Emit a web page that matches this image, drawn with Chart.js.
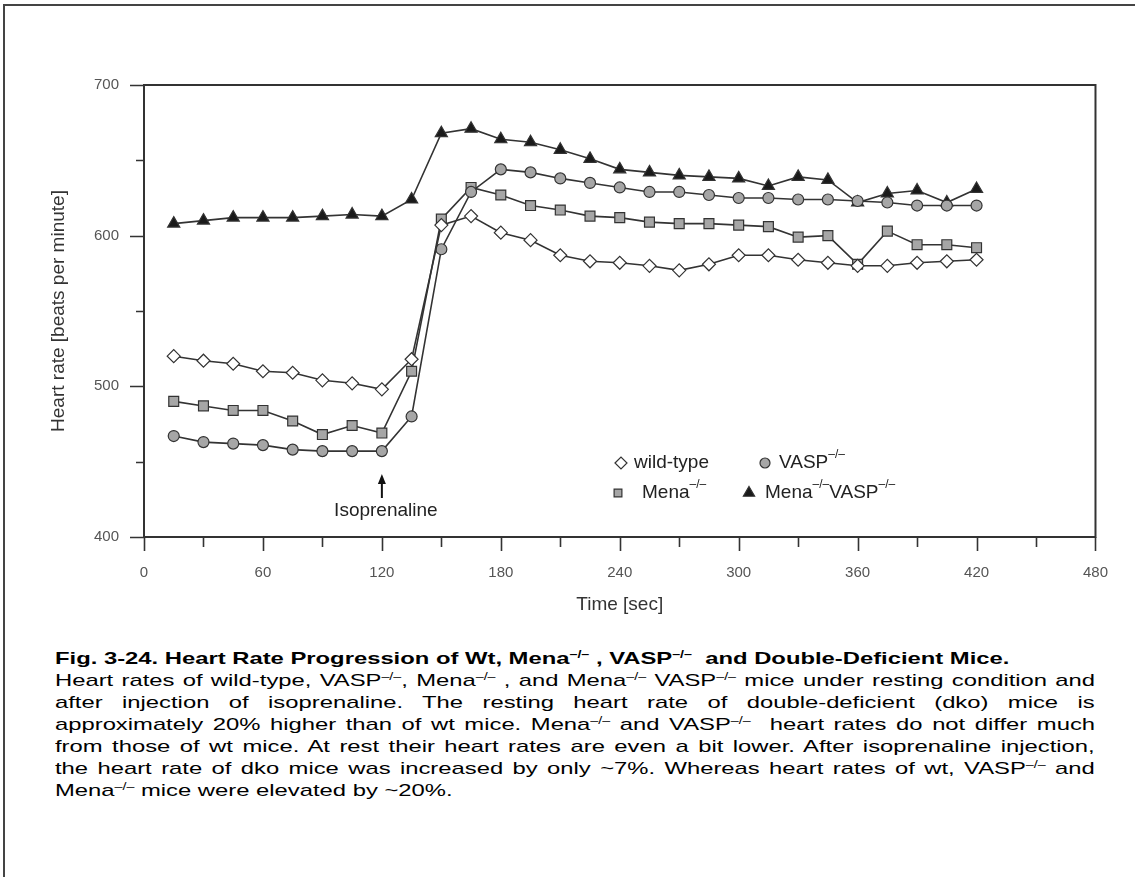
<!DOCTYPE html>
<html>
<head>
<meta charset="utf-8">
<script src="https://cdn.jsdelivr.net/npm/chart.js@4"></script>
<style>
  html, body { margin: 0; padding: 0; background: #fff; }
  #page { position: relative; width: 1135px; height: 877px; overflow: hidden; font-family: "Liberation Sans", Arial, sans-serif; }
  #frame { position: absolute; left: 3px; top: 4px; width: 1200px; height: 1000px; border-top: 2px solid #444; border-left: 2px solid #444; }
  #chart { position: absolute; left: 0; top: 0; }
  #caption { position: absolute; top: 648px; font-size: 17px; line-height: 22px; color: #000; transform-origin: 0 0; }
  #caption .ln span.t { white-space: nowrap; display: inline-block; }
  .sup { font-size: 0.6em; vertical-align: 0.6em; line-height: 0; }
</style>
</head>
<body>
<div id="page">
  <div id="frame"></div>
  <canvas id="chart" width="1135" height="640"></canvas>
  <div id="caption">
    <div class="ln"><span class="t"><b>Fig. 3-24. Heart Rate Progression of Wt, Mena<span class="sup">–/–</span> , VASP<span class="sup">–/–</span>&nbsp; and Double-Deficient Mice.</b></span></div>
    <div class="ln j"><span class="t">Heart rates of wild-type, VASP<span class="sup">–/–</span>, Mena<span class="sup">–/–</span> , and Mena<span class="sup">–/–</span> VASP<span class="sup">–/–</span> mice under resting condition and</span></div>
    <div class="ln j"><span class="t">after injection of isoprenaline. The resting heart rate of double-deficient (dko) mice is</span></div>
    <div class="ln j"><span class="t">approximately 20% higher than of wt mice. Mena<span class="sup">–/–</span> and VASP<span class="sup">–/–</span>&nbsp; heart rates do not differ much</span></div>
    <div class="ln j"><span class="t">from those of wt mice. At rest their heart rates are even a bit lower. After isoprenaline injection,</span></div>
    <div class="ln j"><span class="t">the heart rate of dko mice was increased by only ~7%. Whereas heart rates of wt, VASP<span class="sup">–/–</span> and</span></div>
    <div class="ln"><span class="t">Mena<span class="sup">–/–</span> mice were elevated by ~20%.</span></div>
  </div>
</div>
<script>
// Data
const timeSec = [15, 30, 45, 60, 75, 90, 105, 120, 135, 150, 165, 180, 195, 210,
                 225, 240, 255, 270, 285, 300, 315, 330, 345, 360, 375, 390, 405, 420];
const wildType = [520, 517, 515, 510, 509, 504, 502, 498, 518, 607, 613, 602, 597, 587,
                  583, 582, 580, 577, 581, 587, 587, 584, 582, 580, 580, 582, 583, 584];
const vaspKO = [467, 463, 462, 461, 458, 457, 457, 457, 480, 591, 629, 644, 642, 638,
                635, 632, 629, 629, 627, 625, 625, 624, 624, 623, 622, 620, 620, 620];
const menaKO = [490, 487, 484, 484, 477, 468, 474, 469, 510, 611, 632, 627, 620, 617,
                613, 612, 609, 608, 608, 607, 606, 599, 600, 581, 603, 594, 594, 592];
const dko = [608, 610, 612, 612, 612, 613, 614, 613, 624, 668, 671, 664, 662, 657,
             651, 644, 642, 640, 639, 638, 633, 639, 637, 622, 628, 630, 622, 631];
const xTicks = [0, 60, 120, 180, 240, 300, 360, 420, 480];
const yTicks = [400, 500, 600, 700];
const injectionTime = 120;

const FONT = '"Liberation Sans", Arial, sans-serif';
const LINE = '#333333';

// Caption: the scanned text is wider than plain Arial, stretch it and justify by hand
const CAPTION_LEFT = 55;
const CAPTION_WIDTH = 1040;
const CAPTION_STRETCH = 1.4;

function layoutCaption() {
    const cap = document.getElementById('caption');
    const inner = CAPTION_WIDTH / CAPTION_STRETCH;
    cap.style.left = CAPTION_LEFT + 'px';
    cap.style.width = inner + 'px';
    cap.style.transform = 'scaleX(' + CAPTION_STRETCH + ')';
    cap.querySelectorAll('.ln.j span.t').forEach(el => {
        const gaps = (el.textContent.match(/[ \u00a0]/g) || []).length;
        const extra = inner - el.offsetWidth;
        if (gaps > 0) el.style.wordSpacing = (extra / gaps) + 'px';
    });
}
layoutCaption();

function toPoints(values) {
    return values.map((v, i) => ({ x: timeSec[i], y: v }));
}

function series(label, values, style, radius, fill) {
    return {
        label: label,
        data: toPoints(values),
        borderColor: LINE,
        borderWidth: 1.6,
        pointStyle: style,
        pointRadius: radius,
        pointBackgroundColor: fill,
        pointBorderColor: LINE,
        pointBorderWidth: 1.2,
        tension: 0
    };
}

// Draws text pieces, some of them as superscripts
function drawRuns(ctx, x, y, runs) {
    ctx.textAlign = 'left';
    ctx.textBaseline = 'middle';
    ctx.fillStyle = '#222';
    runs.forEach(r => {
        ctx.font = (r.sup ? '12px ' : '19px ') + FONT;
        ctx.fillText(r.t, x, r.sup ? y - 8 : y);
        x += ctx.measureText(r.t).width;
    });
}

const decorPlugin = {
    id: 'decor',
    afterDraw(chart) {
        const { ctx, chartArea: a, scales: { x, y } } = chart;
        ctx.save();

        // plot frame
        ctx.strokeStyle = LINE;
        ctx.lineWidth = 2;
        ctx.strokeRect(a.left, a.top, a.right - a.left, a.bottom - a.top);

        // ticks: major on labelled values, minor halfway
        ctx.lineWidth = 1.6;
        ctx.beginPath();
        for (let v = y.min; v <= y.max; v += 50) {
            const py = Math.round(y.getPixelForValue(v)) + 0.5;
            const len = yTicks.includes(v) ? 14 : 8;
            ctx.moveTo(a.left - len, py);
            ctx.lineTo(a.left, py);
        }
        for (let v = x.min; v <= x.max; v += 30) {
            const px = Math.round(x.getPixelForValue(v)) + 0.5;
            const len = xTicks.includes(v) ? 14 : 10;
            ctx.moveTo(px, a.bottom);
            ctx.lineTo(px, a.bottom + len);
        }
        ctx.stroke();

        // isoprenaline arrow
        const ax = x.getPixelForValue(injectionTime);
        ctx.strokeStyle = '#111';
        ctx.lineWidth = 2;
        ctx.beginPath();
        ctx.moveTo(ax, 498);
        ctx.lineTo(ax, 480);
        ctx.stroke();
        ctx.fillStyle = '#111';
        ctx.beginPath();
        ctx.moveTo(ax, 474);
        ctx.lineTo(ax - 4, 484);
        ctx.lineTo(ax + 4, 484);
        ctx.closePath();
        ctx.fill();
        ctx.font = '19px ' + FONT;
        ctx.textAlign = 'center';
        ctx.textBaseline = 'middle';
        ctx.fillStyle = '#222';
        ctx.fillText('Isoprenaline', ax + 4, 511);

        // legend
        const h = Chart.helpers;
        const ds = chart.data.datasets;
        const mark = (d, px, py, r) => {
            ctx.fillStyle = d.pointBackgroundColor;
            ctx.strokeStyle = LINE;
            ctx.lineWidth = 1.2;
            h.drawPoint(ctx, { pointStyle: d.pointStyle, radius: r, borderWidth: 1.2 }, px, py);
        };
        const row1 = 463, row2 = 493;
        mark(ds[0], 621, row1, 6);
        drawRuns(ctx, 634, row1, [{ t: 'wild-type' }]);
        mark(ds[1], 765, row1, 5);
        drawRuns(ctx, 779, row1, [{ t: 'VASP' }, { t: '–/–', sup: true }]);
        mark(ds[2], 618, row2, 5.5);
        drawRuns(ctx, 642, row2, [{ t: 'Mena' }, { t: '–/–', sup: true }]);
        mark(ds[3], 749, row2, 6.5);
        drawRuns(ctx, 765, row2, [{ t: 'Mena' }, { t: '–/–', sup: true }, { t: 'VASP' }, { t: '–/–', sup: true }]);

        ctx.restore();
    }
};

new Chart(document.getElementById('chart'), {
    type: 'line',
    data: {
        datasets: [
            series('wild-type', wildType, 'rectRot', 6.5, '#ffffff'),
            series('VASP-/-', vaspKO, 'circle', 5.5, '#a6a6a6'),
            series('Mena-/-', menaKO, 'rect', 7, '#a6a6a6'),
            series('Mena-/- VASP-/-', dko, 'triangle', 7, '#1a1a1a')
        ]
    },
    options: {
        responsive: false,
        animation: false,
        devicePixelRatio: 1,
        layout: { padding: { top: 85, right: 31, left: 0, bottom: 0 } },
        plugins: { legend: { display: false }, tooltip: { enabled: false } },
        scales: {
            x: {
                type: 'linear',
                min: 0,
                max: 480,
                afterFit: s => { s.height = 103; },
                afterBuildTicks: s => { s.ticks = xTicks.map(v => ({ value: v })); },
                grid: { display: false, drawTicks: false },
                border: { display: false },
                ticks: { color: '#555', padding: 27, font: { family: FONT, size: 15 } },
                title: { display: true, text: 'Time [sec]', color: '#333', font: { family: FONT, size: 19 }, padding: { bottom: 24, top: 0 } }
            },
            y: {
                min: 400,
                max: 700,
                afterFit: s => { s.width = 144; },
                afterBuildTicks: s => { s.ticks = yTicks.map(v => ({ value: v })); },
                grid: { display: false, drawTicks: false },
                border: { display: false },
                ticks: { color: '#555', padding: 25, font: { family: FONT, size: 15 } },
                title: { display: true, text: 'Heart rate [beats per minute]', color: '#333', font: { family: FONT, size: 19 }, padding: { top: 47, bottom: 0 } }
            }
        }
    },
    plugins: [decorPlugin]
});
</script>
</body>
</html>
